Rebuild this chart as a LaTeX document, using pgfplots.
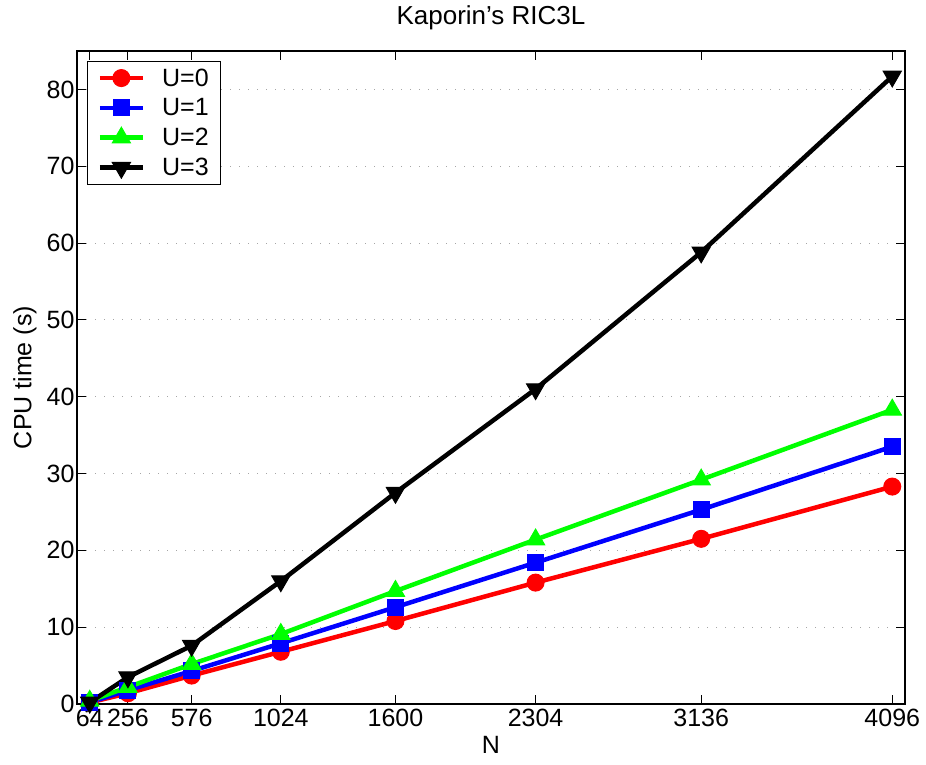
\documentclass[border=0pt]{standalone}
\usepackage{pgfplots}
\pgfplotsset{compat=1.18}
\usepackage{fontspec}
\setmainfont{Liberation Sans}
\definecolor{mred}{rgb}{1,0,0}
\definecolor{mblue}{rgb}{0,0,1}
\definecolor{mgreen}{rgb}{0,1,0}
\begin{document}
\begin{tikzpicture}
\begin{axis}[
  at={(0pt,0pt)}, anchor=south west,
  scale only axis, width=828pt, height=653pt,
  xmin=0, xmax=4160, ymin=0, ymax=85,
  xtick={64,256,576,1024,1600,2304,3136,4096},
  ytick={0,10,20,30,40,50,60,70,80},
  scaled ticks=false,
  /pgf/number format/1000 sep={},
  /pgf/number format/assume math mode=true,
  tick align=inside, tick pos=both,
  major tick length=9pt,
  tick style={black, line width=1pt},
  axis line style={black, line width=1.3pt},
  ymajorgrids,
  grid style={gray!70, line width=1pt, dash pattern=on 1.2pt off 7.8pt},
  ticklabel style={font=\fontsize{25}{29}\selectfont},
  xticklabel style={yshift=-2pt},
  yticklabel style={xshift=1pt},
  label style={font=\fontsize{25}{29}\selectfont},
  xlabel={N},
  xlabel style={at={(axis description cs:0.5,0)}, anchor=north, yshift=-29pt},
  ylabel={CPU time (s)},
  ylabel style={at={(axis description cs:-0.063,0.5)}, anchor=center},
  title={Kaporin’s RIC3L},
  title style={font=\fontsize{26}{30}\selectfont, at={(axis description cs:0.5,1)}, anchor=south, yshift=12pt},
  legend style={at={(axis description cs:0.0121,0.9847)}, anchor=north west,
    draw=black, line width=1.2pt, font=\fontsize{25}{29}\selectfont,
    inner xsep=10pt, inner ysep=5pt, row sep=7pt,
    /tikz/every even column/.append style={column sep=0pt},
    /tikz/every odd column/.append style={column sep=15pt}},
  legend cell align=left,
  legend image code/.code={\draw[mark repeat=2,mark phase=2] plot coordinates {(0pt,0pt) (21.5pt,0pt) (43pt,0pt)};},
  every axis plot/.append style={line width=4.5pt},
]
\addplot[mred, mark=*, mark size=8.5pt, mark options={solid, line width=1pt}] coordinates {
(64,0.2) (256,1.4) (576,3.7) (1024,6.8) (1600,10.8) (2304,15.8) (3136,21.5) (4096,28.3)};
\addlegendentry{U=0}
\addplot[mblue, mark=square*, mark size=8pt, mark options={solid, line width=1pt}] coordinates {
(64,0.2) (256,1.8) (576,4.3) (1024,7.9) (1600,12.6) (2304,18.4) (3136,25.3) (4096,33.5)};
\addlegendentry{U=1}
\addplot[mgreen, mark=triangle*, mark size=10.5pt, mark options={solid, line width=1pt}] coordinates {
(64,0.4) (256,2.2) (576,5.2) (1024,9.1) (1600,14.7) (2304,21.4) (3136,29.2) (4096,38.3)};
\addlegendentry{U=2}
\addplot[black, mark=triangle*, mark size=10.5pt, mark options={solid, line width=1pt, rotate=180}] coordinates {
(64,0.2) (256,3.5) (576,7.6) (1024,16.0) (1600,27.5) (2304,41.0) (3136,58.8) (4096,81.7)};
\addlegendentry{U=3}
\end{axis}
\pgfresetboundingbox
\path[use as bounding box] (-77pt,-60pt) rectangle (849pt,704pt);
\end{tikzpicture}
\end{document}
